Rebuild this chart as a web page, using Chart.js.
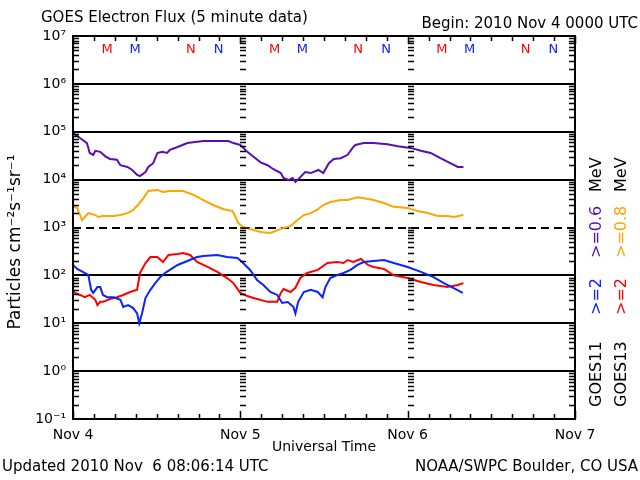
<!DOCTYPE html>
<html><head><meta charset="utf-8">
<script src="https://cdn.jsdelivr.net/npm/chart.js@4"></script>
<style>html,body{margin:0;padding:0;background:#fff}#wrap{width:640px;height:480px;position:relative}</style>
</head><body><div id="wrap"><canvas id="c" width="640" height="480"></canvas></div>
<script>
// ---- data (hours since 2010 Nov 4 00:00 UTC, flux in particles cm^-2 s^-1 sr^-1) ----
const dayHours = [0, 24, 48, 72];
const dayLabels = ['Nov 4', 'Nov 5', 'Nov 6', 'Nov 7'];
const decadeValues = [0.1, 1, 10, 100, 1e3, 1e4, 1e5, 1e6, 1e7];
const decadeLabels = ['10\u207B\u00B9', '10\u2070', '10\u00B9', '10\u00B2', '10\u00B3', '10\u2074', '10\u2075', '10\u2076', '10\u2077'];

const g11LowHours = [0,1.0,2.0,2.4,2.9,3.2,3.9,4.6,5.3,6.3,6.8,7.8,8.5,9.2,9.6,10.4,10.8,11.5,12.1,12.8,13.5,13.9,15.0,16.4,17.5,18.7,20.7,22.3,23.0,24.0,25.0,25.9,26.9,27.9,28.7,29.8,30.2,30.9,31.5,31.9,32.6,33.3,34.1,35.2,35.9,36.7,37.4,38.4,39.4,40.1,40.5,41.7,43.1,45.1,46.6,48.4,49.9,51.3,52.7,53.9,55.2,56.0];
const g11LowFlux = [9.4e4,7.4e4,5.8e4,3.6e4,3.3e4,4.0e4,3.8e4,3.1e4,2.7e4,2.6e4,2.0e4,1.84e4,1.59e4,1.25e4,1.19e4,1.44e4,1.84e4,2.2e4,3.6e4,3.8e4,3.6e4,4.2e4,4.8e4,5.8e4,6.1e4,6.4e4,6.4e4,6.4e4,5.8e4,5.3e4,3.8e4,3.0e4,2.3e4,2.0e4,1.67e4,1.37e4,1.08e4,9.8e3,1.08e4,8.9e3,1.13e4,1.44e4,1.37e4,1.59e4,1.37e4,2.2e4,2.7e4,2.8e4,3.3e4,4.6e4,5.3e4,5.8e4,5.8e4,5.5e4,5.0e4,4.6e4,4.0e4,3.6e4,2.8e4,2.3e4,1.84e4,1.84e4];

const g13LowHours = [0,0.6,1.3,1.7,2.2,3.2,3.6,4.3,5.8,6.8,7.8,8.6,9.3,10.1,10.8,12.1,12.9,13.9,15.0,15.8,17.3,18.7,20.1,21.6,22.9,23.3,23.7,24.4,25.4,26.9,28.3,30.2,31.2,32.2,33.1,34.1,35.1,35.9,36.9,38.4,39.4,40.8,41.7,43.1,44.6,46.0,48.0,49.4,50.9,52.3,53.7,54.6,56.0];
const g13LowFlux = [2.8e3,2.55e3,1.43e3,1.66e3,2.0e3,1.82e3,1.66e3,1.74e3,1.74e3,1.82e3,2.0e3,2.3e3,2.95e3,4.1e3,5.8e3,6.1e3,5.5e3,5.8e3,5.8e3,5.8e3,4.8e3,3.75e3,2.95e3,2.4e3,2.2e3,1.66e3,1.24e3,1.02e3,930,805,770,980,1.07e3,1.43e3,1.82e3,2.0e3,2.4e3,2.95e3,3.4e3,3.75e3,3.75e3,4.3e3,4.1e3,3.75e3,3.25e3,2.7e3,2.55e3,2.2e3,2.0e3,1.74e3,1.74e3,1.66e3,1.82e3];

const g11HighHours = [0,0.6,1.4,2.2,2.6,2.9,3.5,3.9,4.3,4.9,5.8,6.8,7.2,7.9,8.6,9.2,9.5,9.9,10.4,11.1,11.8,12.5,13.2,13.9,15.0,16.4,17.8,18.7,20.7,22.1,23.6,24.4,25.4,26.4,27.3,28.3,29.3,30.0,30.8,31.6,31.9,32.3,33.1,34.1,35.1,35.8,36.2,36.9,37.9,38.8,39.8,40.8,41.7,43.1,44.6,46.0,48.0,49.9,51.7,53.2,54.6,55.9];
const g11HighFlux = [165,136,118,102,50,43,57,57,39,35,35,31,22,24,21,16,10,16,34,50,69,92,112,130,165,200,242,254,267,242,231,181,130,80,63,45,39,26.5,27.8,22,16,28,45,50,45,35,57,88,102,112,130,165,190,200,209,181,150,118,92,69,54,43];

const g13HighHours = [0,0.3,1.0,1.7,2.4,3.2,3.5,3.9,4.3,5.3,6.3,7.2,8.2,9.2,9.6,10.4,11.1,12.1,12.9,13.7,15.0,15.8,16.8,17.8,19.3,20.7,22.1,23.0,24.0,25.0,25.9,27.9,29.3,29.8,30.2,31.2,31.9,32.6,33.6,35.1,36.5,37.9,38.8,39.4,40.2,41.3,42.3,43.1,44.6,46.0,48.0,49.9,51.7,53.7,55.2,56.0];
const g13HighFlux = [47,43,39,35,39,31,24,28,28,32,35,39,45,50,112,181,242,242,190,267,280,293,267,190,150,118,88,69,43,37,33.6,28,28,43,52,45,55,88,112,130,181,190,181,209,190,220,165,150,136,100,88,73,63,57,63,69];

// local midnight (M) / noon (N) markers for GOES13 (red) and GOES11 (blue)
const markerHours = [4.9, 8.9, 16.9, 20.9, 28.9, 32.9, 40.9, 44.9, 52.9, 56.9, 64.9, 68.9];
const markerLabels = ['M','M','N','N','M','M','N','N','M','M','N','N'];
const markerSat = ['G13','G11','G13','G11','G13','G11','G13','G11','G13','G11','G13','G11'];

const legendCol1 = ['GOES11', '>=2', '>=0.6', 'MeV'];
const legendCol2 = ['GOES13', '>=2', '>=0.8', 'MeV'];

// ---- styles ----
const FONT = 'DejaVu Sans';
const C_PURPLE = '#5a0fb4', C_ORANGE = '#ffa500', C_BLUE = '#0a23ff', C_RED = '#ff0000';
const satColor = {G13: C_RED, G11: C_BLUE};

function pts(h, f) { return h.map((v, i) => ({x: v, y: f[i]})); }
function ds(label, h, f, color) {
  return {label, data: pts(h, f), borderColor: color, backgroundColor: color,
          borderWidth: 2, pointRadius: 0, tension: 0, fill: false};
}

const decor = {
  id: 'decor',
  beforeDatasetsDraw(chart) {
    const {ctx, chartArea: a, scales: {y}} = chart;
    ctx.save();
    ctx.strokeStyle = '#000';
    ctx.lineWidth = 2;
    [1, 10, 100, 1e3, 1e4, 1e5, 1e6].forEach(v => {
      const py = Math.round(y.getPixelForValue(v));
      ctx.setLineDash(v === 1e3 ? [8, 5] : []);
      ctx.beginPath(); ctx.moveTo(a.left, py); ctx.lineTo(a.right, py); ctx.stroke();
    });
    ctx.setLineDash([]);
    ctx.restore();
  },
  afterDatasetsDraw(chart) {
    const {ctx, chartArea: a, scales: {x, y}} = chart;
    ctx.save();
    ctx.strokeStyle = '#000';
    // minor log ticks on left, right and day lines
    ctx.lineWidth = 1.5;
    const dayX = [x.getPixelForValue(24), x.getPixelForValue(48)].map(Math.round);
    for (let d = -1; d <= 6; d++) {
      for (let m = 2; m <= 9; m++) {
        const py = Math.round(y.getPixelForValue(m * Math.pow(10, d))) + 0.5;
        ctx.beginPath();
        ctx.moveTo(a.left, py); ctx.lineTo(a.left + 6, py);
        ctx.moveTo(a.right, py); ctx.lineTo(a.right - 6, py);
        dayX.forEach(px => { ctx.moveTo(px, py); ctx.lineTo(px + 6, py); });
        ctx.stroke();
      }
      // decade tick on day lines
      const pyd = Math.round(y.getPixelForValue(Math.pow(10, d)));
      ctx.beginPath();
      dayX.forEach(px => { ctx.moveTo(px, pyd); ctx.lineTo(px + 9, pyd); });
      ctx.stroke();
    }
    // top / bottom time ticks every 3 h
    for (let h = 0; h <= 72; h += 3) {
      const px = Math.round(x.getPixelForValue(h)) + 0.5;
      const len = h % 24 === 0 ? 8 : 5;
      ctx.beginPath();
      ctx.moveTo(px, a.top); ctx.lineTo(px, a.top + len);
      ctx.moveTo(px, a.bottom); ctx.lineTo(px, a.bottom - len);
      ctx.stroke();
    }
    // frame
    ctx.lineWidth = 2;
    ctx.strokeRect(a.left, a.top, a.right - a.left, a.bottom - a.top);
    // M / N markers
    ctx.font = '13px ' + FONT;
    ctx.textAlign = 'center'; ctx.textBaseline = 'middle';
    markerHours.forEach((h, i) => {
      ctx.fillStyle = satColor[markerSat[i]];
      ctx.fillText(markerLabels[i], x.getPixelForValue(h), 50);
    });
    ctx.restore();
  },
  afterDraw(chart) {
    const {ctx} = chart;
    ctx.save();
    ctx.fillStyle = '#000';
    ctx.textBaseline = 'middle';
    ctx.font = '15px ' + FONT;
    ctx.textAlign = 'left';
    ctx.fillText('GOES Electron Flux (5 minute data)', 41, 18);
    ctx.textAlign = 'right';
    ctx.fillText('Begin: 2010 Nov 4 0000 UTC', 638, 24);
    ctx.textAlign = 'left';
    ctx.fillText('Updated 2010 Nov  6 08:06:14 UTC', 2, 467);
    ctx.textAlign = 'right';
    ctx.fillText('NOAA/SWPC Boulder, CO USA', 638, 467);
    // y axis title
    ctx.save();
    ctx.translate(16, 242); ctx.rotate(-Math.PI / 2);
    ctx.textAlign = 'center'; ctx.font = '17px ' + FONT;
    ctx.fillText('Particles cm\u207B\u00B2s\u207B\u00B9sr\u207B\u00B9', 0, 0);
    ctx.restore();
    // right-hand rotated legend
    ctx.font = '16px ' + FONT;
    ctx.textAlign = 'left';
    const segY = [407, 315, 258, 192];
    const col1C = ['#000', C_BLUE, C_PURPLE, '#000'];
    const col2C = ['#000', C_RED, C_ORANGE, '#000'];
    [[597, legendCol1, col1C], [622, legendCol2, col2C]].forEach(([cx, texts, cols]) => {
      texts.forEach((t, i) => {
        ctx.save();
        ctx.translate(cx, segY[i]); ctx.rotate(-Math.PI / 2);
        ctx.fillStyle = cols[i];
        ctx.fillText(t, 0, 0);
        ctx.restore();
      });
    });
    ctx.restore();
  }
};

function decadeLabel(v) {
  const i = decadeValues.findIndex(d => Math.abs(Math.log10(d) - Math.log10(v)) < 1e-6);
  return i >= 0 ? decadeLabels[i] : '';
}

new Chart(document.getElementById('c'), {
  type: 'line',
  data: {
    datasets: [
      ds('GOES11 >=0.6 MeV', g11LowHours, g11LowFlux, C_PURPLE),
      ds('GOES13 >=0.8 MeV', g13LowHours, g13LowFlux, C_ORANGE),
      ds('GOES11 >=2 MeV', g11HighHours, g11HighFlux, C_BLUE),
      ds('GOES13 >=2 MeV', g13HighHours, g13HighFlux, C_RED)
    ]
  },
  options: {
    responsive: false, animation: false, devicePixelRatio: 1,
    layout: {padding: {left: 0, right: 65, top: 36, bottom: 21}},
    plugins: {legend: {display: false}, tooltip: {enabled: false}, title: {display: false}},
    scales: {
      x: {
        type: 'linear', position: 'bottom', min: 0, max: 72,
        grid: {display: false, drawTicks: false}, border: {display: false},
        afterBuildTicks: s => { s.ticks = dayHours.map(v => ({value: v})); },
        afterFit: s => { s.height = 40; },
        ticks: {autoSkip: false, maxRotation: 0, padding: 8, color: '#000',
                font: {family: FONT, size: 14},
                callback: v => dayLabels[dayHours.indexOf(v)]},
        title: {display: true, text: 'Universal Time', color: '#000',
                font: {family: FONT, size: 14}, padding: {top: 0, bottom: 3}}
      },
      y: {
        type: 'logarithmic', position: 'left', min: 0.1, max: 1e7,
        grid: {display: false, drawTicks: false}, border: {display: false},
        afterBuildTicks: s => { s.ticks = decadeValues.map(v => ({value: v})); },
        afterFit: s => { s.width = 73; },
        ticks: {autoSkip: false, padding: 7, color: '#000',
                font: {family: FONT, size: 14}, callback: v => decadeLabel(v)}
      }
    }
  },
  plugins: [decor]
});
</script></body></html>
